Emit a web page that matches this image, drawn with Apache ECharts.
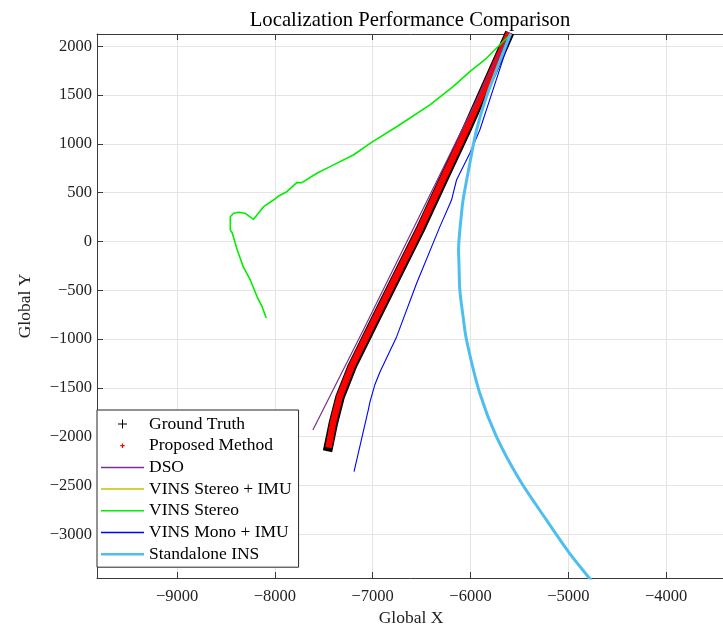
<!DOCTYPE html>
<html>
<head>
<meta charset="utf-8">
<script src="https://cdn.jsdelivr.net/npm/echarts@6/dist/echarts.min.js"></script>
<style>
  html, body { margin: 0; padding: 0; background: #fff; }
  #view { width: 723px; height: 625px; }
</style>
</head>
<body>
<div id="view"></div>
<script>
// tick values
var xTicks = [-9000, -8000, -7000, -6000, -5000, -4000];
var yTicks = [-3000, -2500, -2000, -1500, -1000, -500, 0, 500, 1000, 1500, 2000];

// trajectories, [x, y]
var groundTruth = [[-5599, 2140], [-6041, 1142], [-6280, 630], [-6517, 118], [-6721, -292], [-6959, -770],
    [-7130, -1117], [-7211, -1281], [-7265, -1419], [-7334, -1593], [-7402, -1860], [-7462, -2150]];
var proposed = [[-5603, 2140], [-6046, 1142], [-6286, 630], [-6523, 118], [-6727, -292], [-6965, -770],
    [-7136, -1117], [-7217, -1281], [-7271, -1419], [-7339, -1593], [-7406, -1860], [-7452, -2112]];
var dso = [[-5599, 2136], [-6592, 118], [-7096, -906], [-7612, -1931]];
var vinsStereoImu = [];
var vinsStereo = [[-5600, 2110], [-5633, 2082], [-5837, 1877], [-6007, 1740], [-6178, 1586], [-6415, 1399],
    [-6755, 1176], [-7000, 1023], [-7198, 886], [-7436, 767], [-7571, 699], [-7724, 603], [-7776, 603],
    [-7878, 510], [-7963, 466], [-8014, 425], [-8116, 357], [-8218, 227], [-8303, 289], [-8371, 299],
    [-8422, 289], [-8456, 254], [-8456, 118], [-8436, 87], [-8385, -87], [-8323, -261], [-8252, -394],
    [-8181, -569], [-8130, -671], [-8089, -784]];
var vinsMonoImu = [[-5587, 2114], [-5905, 1142], [-6007, 904], [-6143, 630], [-6194, 425], [-6313, 152],
    [-6551, -428], [-6755, -975], [-6926, -1337], [-6977, -1465], [-7028, -1644], [-7045, -1726], [-7191, -2359]];
var standaloneIns = [[-5590, 2130], [-5837, 1484], [-5939, 1142], [-6007, 801], [-6076, 425], [-6092, 289],
    [-6122, -87], [-6118, -223], [-6109, -497], [-6076, -770], [-6041, -1009], [-5905, -1555], [-5735, -2000],
    [-5497, -2444], [-5224, -2853], [-4987, -3195], [-4783, -3451], [-4760, -3480]];

var serif = 'Liberation Serif';
function minus(v) { return String(v).replace('-', '\u2212'); }

var chart = echarts.init(document.getElementById('view'));

function line(name, data, color, width, extra) {
    return Object.assign({
        name: name, type: 'line', data: data, symbol: 'none', clip: true,
        lineStyle: {color: color, width: width, cap: 'butt', join: 'round'},
        itemStyle: {color: color}
    }, extra || {});
}

// legend icons: plus markers and plain line strokes
var plusBig = 'path://M0,0M14,14M6.5,2.5H7.5V6.5H11.5V7.5H7.5V11.5H6.5V7.5H2.5V6.5H6.5Z';
var plusSmall = 'path://M0,0M14,14M6.4,4.8H7.6V6.4H9.2V7.6H7.6V9.2H6.4V7.6H4.8V6.4H6.4Z';
function bar(h) { return 'path://M0,0H43V' + h + 'H0Z'; }

var axisCommon = {
    type: 'value',
    axisLine: {show: true, onZero: false, lineStyle: {color: '#3a3a3a', width: 1}},
    axisTick: {show: true, inside: true, length: 6, lineStyle: {color: '#3a3a3a'}},
    splitLine: {show: true, lineStyle: {color: '#e4e4e4', width: 1}}
};

chart.setOption({
    animation: false,
    backgroundColor: '#fff',
    title: {
        text: 'Localization Performance Comparison',
        left: 405, top: 5, textAlign: 'center',
        textStyle: {fontFamily: serif, fontSize: 20.7, fontWeight: 'normal', color: '#000'}
    },
    grid: {left: 97, top: 34, width: 628, height: 544, show: false,
        containLabel: false, outerBoundsMode: 'none'},
    legend: {
        orient: 'vertical', left: 97, top: 410,
        itemWidth: 43, itemHeight: 14, itemGap: 3.7,
        padding: [5, 7, 4, 4],
        backgroundColor: '#fff', borderColor: '#262626', borderWidth: 1, borderRadius: 0,
        itemStyle: {borderWidth: 0},
        textStyle: {fontFamily: serif, fontSize: 17.5, color: '#000'},
        data: [
            {name: 'Ground Truth', icon: plusBig},
            {name: 'Proposed Method', icon: plusSmall},
            {name: 'DSO', icon: bar(1.5)},
            {name: 'VINS Stereo + IMU', icon: bar(1.5)},
            {name: 'VINS Stereo', icon: bar(1.5)},
            {name: 'VINS Mono + IMU', icon: bar(1.5)},
            {name: 'Standalone INS', icon: bar(2.5)}
        ]
    },
    xAxis: [
        Object.assign({}, axisCommon, {
            min: -9819, max: -3398, position: 'bottom',
            name: 'Global X', nameLocation: 'middle', nameGap: 26,
            nameTextStyle: {fontFamily: serif, fontSize: 17.5, color: '#222'},
            axisTick: Object.assign({}, axisCommon.axisTick, {customValues: xTicks}),
            axisLabel: {customValues: xTicks, formatter: minus, margin: 10,
                fontFamily: serif, fontSize: 16.5, color: '#222'}
        }),
        Object.assign({}, axisCommon, {
            min: -9819, max: -3398, position: 'top',
            axisTick: Object.assign({}, axisCommon.axisTick, {customValues: xTicks}),
            axisLabel: {show: false}, splitLine: {show: false}
        })
    ],
    yAxis: [
        Object.assign({}, axisCommon, {
            min: -3448, max: 2126, position: 'left',
            name: 'Global Y', nameLocation: 'middle', nameGap: 63, nameRotate: 90,
            nameTextStyle: {fontFamily: serif, fontSize: 17.5, color: '#222'},
            axisTick: Object.assign({}, axisCommon.axisTick, {customValues: yTicks}),
            axisLabel: {customValues: yTicks, formatter: minus, margin: 5,
                fontFamily: serif, fontSize: 16.5, color: '#222'}
        })
    ],
    series: [
        line('Ground Truth', groundTruth, '#000000', 9.5),
        line('Proposed Method', proposed, '#ff0000', 6.5),
        line('DSO', dso, '#7e2f8e', 1.2),
        line('VINS Stereo + IMU', vinsStereoImu, '#c8c000', 1.2),
        line('VINS Stereo', vinsStereo, '#00ee00', 1.6),
        line('VINS Mono + IMU', vinsMonoImu, '#0000ff', 1.1),
        line('Standalone INS', standaloneIns, '#4dbeee', 3, {smooth: 0.3})
    ]
});
</script>
</body>
</html>
